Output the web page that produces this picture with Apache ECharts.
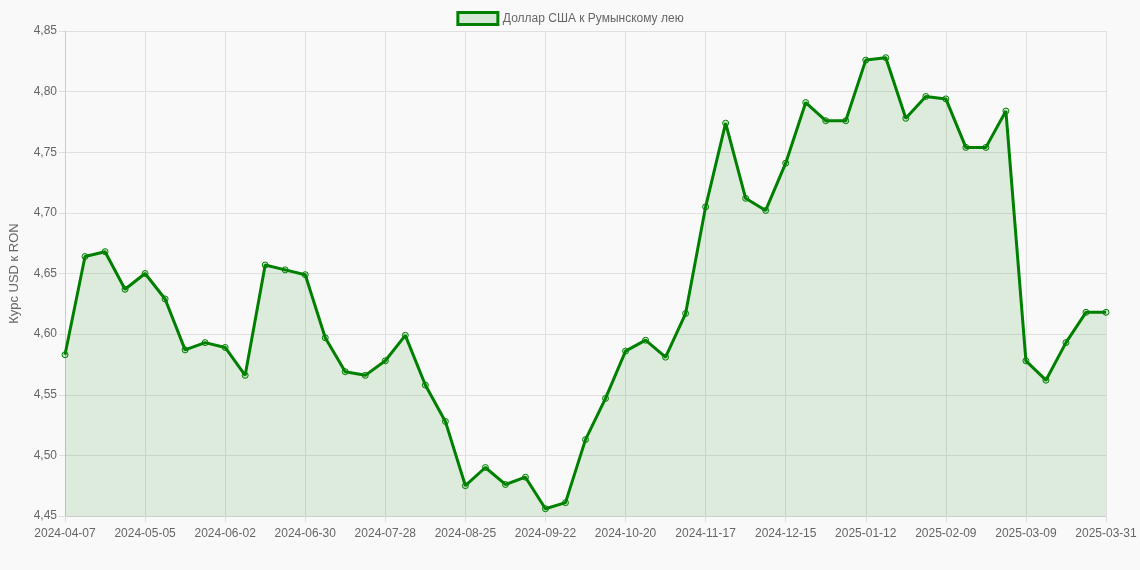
<!DOCTYPE html>
<html>
<head>
<meta charset="utf-8">
<script src="https://cdn.jsdelivr.net/npm/echarts@6/dist/echarts.min.js"></script>
<style>
  html, body { margin: 0; padding: 0; background: #f9f9f9; }
  #chart { width: 1140px; height: 570px; }
</style>
</head>
<body>
<div id="chart"></div>
<script>
// weekly dates, last point is 2025-03-31
const dates = [];
(function () {
  const d = new Date(Date.UTC(2024, 3, 7));
  for (let i = 0; i < 52; i++) {
    dates.push(d.toISOString().slice(0, 10));
    d.setUTCDate(d.getUTCDate() + 7);
  }
  dates.push("2025-03-31");
})();

const rates = [
  4.583, 4.664, 4.668, 4.637, 4.650, 4.629, 4.587, 4.593, 4.589, 4.566,
  4.657, 4.653, 4.649, 4.597, 4.569, 4.566, 4.578, 4.599, 4.558, 4.528,
  4.475, 4.490, 4.476, 4.482, 4.456, 4.461, 4.513, 4.547, 4.586, 4.595,
  4.581, 4.617, 4.705, 4.774, 4.712, 4.702, 4.741, 4.791, 4.776, 4.776,
  4.826, 4.828, 4.778, 4.796, 4.794, 4.754, 4.754, 4.784, 4.578, 4.562,
  4.593, 4.618, 4.618
];

const seriesName = "Доллар США к Румынскому лею";
const yTitle = "Курс USD к RON";

const chart = echarts.init(document.getElementById("chart"));
const fmt = v => v.toFixed(2).replace(".", ",");

chart.setOption({
  backgroundColor: "#f9f9f9",
  animation: false,
  textStyle: { fontFamily: "Arial, Liberation Sans, sans-serif" },
  legend: {
    top: 6,
    itemWidth: 40,
    itemHeight: 12,
    textStyle: { color: "#666", fontSize: 12 },
    data: [{
      name: seriesName,
      icon: "rect",
      itemStyle: { color: "rgba(0,128,0,0.15)", borderColor: "#008000", borderWidth: 3 }
    }]
  },
  grid: { left: 62, right: 34, top: 31, bottom: 54 },
  xAxis: {
    type: "category",
    boundaryGap: false,
    data: dates,
    axisLine: { lineStyle: { color: "#ccc" } },
    axisTick: { show: true, interval: 3, length: 6, lineStyle: { color: "#ddd" } },
    axisLabel: { interval: 3, color: "#666", fontSize: 12, margin: 12 },
    splitLine: { show: true, interval: 3, lineStyle: { color: "#e0e0e0" } }
  },
  yAxis: {
    type: "value",
    min: 4.45,
    max: 4.85,
    interval: 0.05,
    name: yTitle,
    nameLocation: "middle",
    nameGap: 44,
    nameTextStyle: { color: "#666", fontSize: 13 },
    axisLine: { show: true, lineStyle: { color: "#ccc" } },
    axisTick: { show: true, length: 6, lineStyle: { color: "#ddd" } },
    axisLabel: { color: "#666", fontSize: 12, formatter: fmt },
    splitLine: { lineStyle: { color: "#e0e0e0" } }
  },
  series: [{
    name: seriesName,
    type: "line",
    data: rates,
    symbol: "circle",
    symbolSize: 6,
    showAllSymbol: true,
    lineStyle: { color: "#008000", width: 3 },
    itemStyle: { color: "rgba(0,128,0,0.15)", borderColor: "#008000", borderWidth: 1 },
    areaStyle: { color: "rgba(0,128,0,0.16)" }
  }]
});
</script>
</body>
</html>
